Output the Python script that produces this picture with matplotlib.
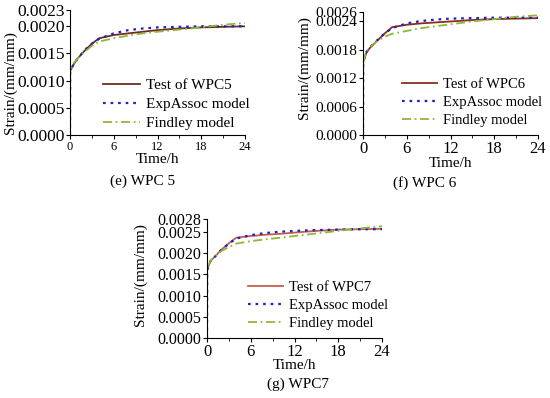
import matplotlib
matplotlib.use("Agg")
import matplotlib.pyplot as plt
from matplotlib.ticker import MultipleLocator

plt.rcParams['font.family'] = ['Liberation Serif', 'DejaVu Serif']

# time points (h)
t = [0, 0.02, 0.5, 1, 2, 3, 4, 6, 8, 10, 12, 15, 18, 21, 24]

# WPC5
test_e = [0, 0.00118, 0.00130, 0.00140, 0.00155, 0.00168, 0.00178, 0.00184, 0.00187, 0.00190, 0.00193, 0.00196, 0.00198, 0.00199, 0.00200]
exp_e = [0, 0.00118, 0.00130, 0.00140, 0.00156, 0.00168, 0.00177, 0.00187, 0.00193, 0.00196, 0.00198, 0.00199, 0.00200, 0.00200, 0.00200]
find_e = [0, 0.00118, 0.00132, 0.00140, 0.00153, 0.00164, 0.00172, 0.00178, 0.00183, 0.00187, 0.00190, 0.00194, 0.00198, 0.00203, 0.00206]

# WPC6
test_f = [0, 0.00155, 0.00175, 0.00185, 0.00200, 0.00215, 0.00228, 0.00233, 0.00236, 0.00238, 0.00240, 0.00243, 0.00245, 0.00246, 0.00247]
exp_f = [0, 0.00155, 0.00176, 0.00186, 0.00201, 0.00215, 0.00226, 0.00236, 0.00241, 0.00244, 0.00246, 0.00247, 0.00248, 0.00248, 0.00248]
find_f = [0, 0.00155, 0.00177, 0.00186, 0.00199, 0.00208, 0.00214, 0.00220, 0.00226, 0.00230, 0.00234, 0.00240, 0.00245, 0.00250, 0.00253]

# WPC7
test_g = [0, 0.00160, 0.00182, 0.00190, 0.00208, 0.00223, 0.00236, 0.00240, 0.00243, 0.00245, 0.00248, 0.00252, 0.00255, 0.00256, 0.00257]
exp_g = [0, 0.00160, 0.00182, 0.00190, 0.00208, 0.00222, 0.00234, 0.00242, 0.00247, 0.00250, 0.00252, 0.00254, 0.00255, 0.00256, 0.00256]
find_g = [0, 0.00160, 0.00183, 0.00191, 0.00205, 0.00214, 0.00222, 0.00228, 0.00232, 0.00236, 0.00240, 0.00246, 0.00252, 0.00258, 0.00263]

yticks_e = [0, 0.0005, 0.0010, 0.0015, 0.0020, 0.0023]
yticks_f = [0, 0.0006, 0.0012, 0.0018, 0.0024, 0.0026]
yticks_g = [0, 0.0005, 0.0010, 0.0015, 0.0020, 0.0025, 0.0028]

W, H = 550, 398
fig = plt.figure(figsize=(5.5, 3.98), dpi=100)


def make_panel(px_left, px_top, px_bottom, test, exp, find, name, yticks,
               ytick_fs, xtick_fs, test_color, ylab_pos, xlab_off, leg_pos, leg_fs):
    ax = fig.add_axes([px_left / W, 1 - px_bottom / H, 175 / W, (px_bottom - px_top) / H])
    ax.plot(t, test, color=test_color, lw=1.3, label='Test of ' + name)
    ax.plot(t, exp, color='#1f1fc8', lw=1.6, ls=(0, (1.2, 2.2)), label='ExpAssoc model')
    ax.plot(t, find, color='#8fb83a', lw=1.3, ls=(0, (5, 2, 1, 2)), label='Findley model')
    ax.set_xlim(0, 24)
    ax.set_ylim(0, yticks[-1])
    ax.set_xticks([0, 6, 12, 18, 24])
    ax.xaxis.set_minor_locator(MultipleLocator(3))
    ax.set_yticks(yticks)
    ax.set_yticklabels(['%.4f' % v for v in yticks])
    ax.tick_params(axis='y', labelsize=ytick_fs, length=3, pad=1)
    ax.tick_params(axis='x', labelsize=xtick_fs, length=3, pad=1)
    ax.tick_params(which='minor', length=2)
    ax.spines['top'].set_visible(False)
    ax.spines['right'].set_visible(False)
    ax.set_ylabel('Strain/(mm/mm)', fontsize=11)
    ax.yaxis.set_label_coords(*ylab_pos)
    ax.set_xlabel('Time/h', fontsize=11)
    ax.xaxis.set_label_coords(0.5, -xlab_off / (px_bottom - px_top))
    ax.legend(loc='upper left', bbox_to_anchor=leg_pos, frameon=False,
              fontsize=leg_fs, handlelength=2.4, handletextpad=0.4,
              labelspacing=0.34, borderpad=0, borderaxespad=0)
    return ax


make_panel(70, 10, 135, test_e, exp_e, find_e, 'WPC5', yticks_e, 12.5, 9,
           '#6e2d1c', (-0.30, 0.42), 18, (0.19, 0.45), 11)
make_panel(363, 12, 135, test_f, exp_f, find_f, 'WPC6', yticks_f, 11, 12,
           '#8a2e1c', (-0.295, 0.55), 22, (0.223, 0.465), 10.5)
make_panel(207, 219, 338, test_g, exp_g, find_g, 'WPC7', yticks_g, 11.5, 12,
           '#c0604a', (-0.34, 0.53), 21, (0.234, 0.48), 10.5)

fig.text(143 / W, 1 - 181 / H, '(e) WPC 5', ha='center', va='center', fontsize=11)
fig.text(425 / W, 1 - 183 / H, '(f) WPC 6', ha='center', va='center', fontsize=11)
fig.text(298 / W, 1 - 384 / H, '(g) WPC7', ha='center', va='center', fontsize=11)

fig.savefig('out.png', dpi=100)
